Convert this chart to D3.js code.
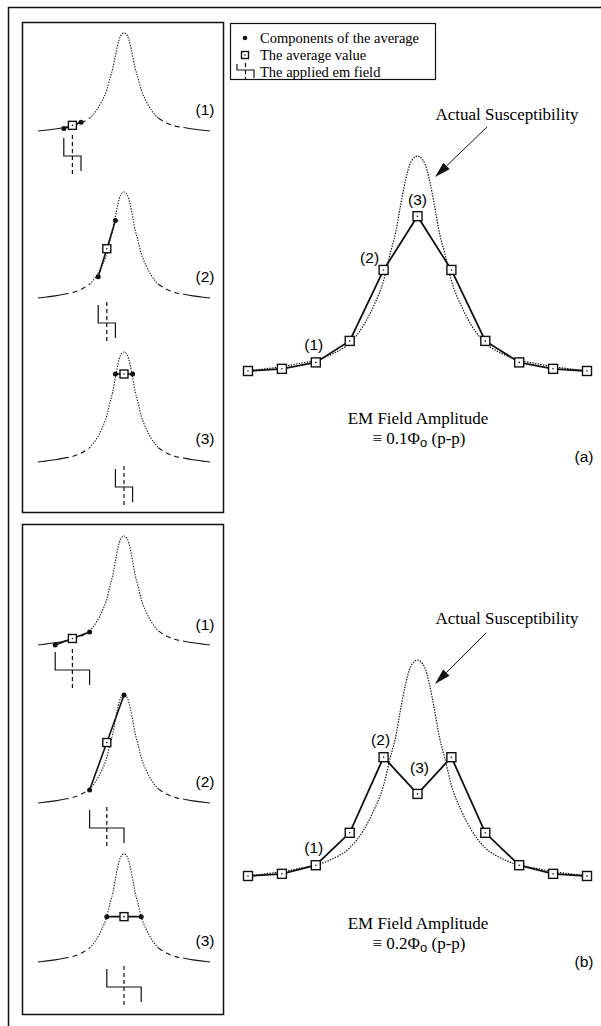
<!DOCTYPE html>
<html>
<head>
<meta charset="utf-8">
<script src="https://cdn.jsdelivr.net/npm/d3@7"></script>
<style>
  body { margin: 0; background: #fff; }
  svg { display: block; }
  .serif { font-family: 'Liberation Serif', 'Times New Roman', serif; }
  .sans { font-family: 'Liberation Sans', Arial, sans-serif; }
</style>
</head>
<body>
<div id="chart"></div>
<script>
// susceptibility shape, field units vs height (peak = 1)
const curveU = [-5, -4.5, -4, -3.5, -3, -2.5, -2, -1.6, -1.3, -1, -0.8, -0.65, -0.5, -0.35, -0.2, 0,
  0.2, 0.35, 0.5, 0.65, 0.8, 1, 1.3, 1.6, 2, 2.5, 3, 3.5, 4, 4.5, 5];
const curveH = [0, 0.01, 0.02, 0.035, 0.05, 0.08, 0.13, 0.21, 0.3, 0.42, 0.55, 0.64, 0.77, 0.89, 0.97, 1,
  0.97, 0.89, 0.77, 0.64, 0.55, 0.42, 0.3, 0.21, 0.13, 0.08, 0.05, 0.035, 0.02, 0.01, 0];

// measured averages at each field position
const fieldU = [-5, -4, -3, -2, -1, 0, 1, 2, 3, 4, 5];
const avgA = [0, 0.01, 0.04, 0.14, 0.47, 0.72, 0.47, 0.14, 0.04, 0.01, 0];
const avgB = [0, 0.01, 0.05, 0.20, 0.55, 0.38, 0.55, 0.20, 0.05, 0.01, 0];

const pointLabels = ['(1)', '(2)', '(3)'];
const labelU = [-3, -1, 0];

// insets: field centre, half amplitude, the two component values
const insetCenter = [-3, -1, 0];
const ampA = 0.5, ampB = 1;
const compA = [[0.025, 0.09], [0.2, 0.73], [0.8, 0.8]];
const compB = [[0.0, 0.12], [0.12, 1.0], [0.42, 0.42]];

const legendLabels = ['Components of the average', 'The average value', 'The applied em field'];

const W = 601, H = 1026;
const svg = d3.select('#chart').append('svg')
  .attr('width', W).attr('height', H);

// outer frame (top and left only)
svg.append('path')
  .attr('d', 'M8.5,1026 V7.5 H601')
  .attr('fill', 'none').attr('stroke', '#111').attr('stroke-width', 1.5);

// inset boxes
svg.append('rect').attr('x', 22.5).attr('y', 22.5).attr('width', 201).attr('height', 490)
  .attr('fill', 'none').attr('stroke', '#111').attr('stroke-width', 1.5);
svg.append('rect').attr('x', 22.5).attr('y', 524.5).attr('width', 201).attr('height', 490)
  .attr('fill', 'none').attr('stroke', '#111').attr('stroke-width', 1.5);

const curveData = curveU.map((u, i) => ({u: u, h: curveH[i]}));

function square(g, cx, cy, s) {
  g.append('rect').attr('x', cx - s / 2).attr('y', cy - s / 2).attr('width', s).attr('height', s)
    .attr('fill', '#fff').attr('stroke', '#111').attr('stroke-width', 1.4);
  g.append('circle').attr('cx', cx).attr('cy', cy).attr('r', 0.8).attr('fill', '#111');
}

function fieldSymbol(g, x0, x1, top, mid, bot, dTop, dBot) {
  g.append('path')
    .attr('d', `M${x0},${top} V${mid} H${x1} V${bot}`)
    .attr('fill', 'none').attr('stroke', '#111').attr('stroke-width', 1.2);
  g.append('line')
    .attr('x1', (x0 + x1) / 2).attr('x2', (x0 + x1) / 2)
    .attr('y1', dTop).attr('y2', dBot)
    .attr('stroke', '#111').attr('stroke-width', 1.2).attr('stroke-dasharray', '4,3');
}

// ---- left insets ----
const xl = d3.scaleLinear().domain([-5, 5]).range([38, 210]);

function drawInset(base, peak, center, amp, comp, label, labelY) {
  const y = d3.scaleLinear().domain([0, 1]).range([base, peak]);
  const g = svg.append('g');
  const line = d3.line().x(d => xl(d.u)).y(d => y(d.h)).curve(d3.curveMonotoneX);
  const pieces = [
    {f: d => d.u <= -3.5, dash: null},
    {f: d => d.u >= -3.5 && d.u <= -2, dash: '5,4'},
    {f: d => d.u >= -2 && d.u <= 2, dash: '1.3,1.4'},
    {f: d => d.u >= 2 && d.u <= 3.5, dash: '5,4'},
    {f: d => d.u >= 3.5, dash: null}
  ];
  pieces.forEach(p => {
    g.append('path')
      .attr('d', line(curveData.filter(p.f)))
      .attr('fill', 'none').attr('stroke', '#111').attr('stroke-width', 1.1)
      .attr('stroke-dasharray', p.dash);
  });
  const p1 = [xl(center - amp), y(comp[0])];
  const p2 = [xl(center + amp), y(comp[1])];
  g.append('line').attr('x1', p1[0]).attr('y1', p1[1]).attr('x2', p2[0]).attr('y2', p2[1])
    .attr('stroke', '#111').attr('stroke-width', 1.6);
  [p1, p2].forEach(p => g.append('circle').attr('cx', p[0]).attr('cy', p[1]).attr('r', 2.5).attr('fill', '#111'));
  square(g, xl(center), (p1[1] + p2[1]) / 2, 8);
  fieldSymbol(g, xl(center - amp), xl(center + amp), base + 7, base + 25, base + 40, base + 4, base + 45);
  g.append('text').attr('class', 'sans').attr('x', 205).attr('y', labelY)
    .attr('text-anchor', 'middle').attr('dominant-baseline', 'central')
    .attr('font-size', 15.5).text(label);
}

const basesA = [131, 298, 462], peaksA = [33, 192, 352], labYA = [109, 276, 438];
const basesB = [645, 803, 962], peaksB = [536, 695, 854], labYB = [624, 781, 940];
for (let i = 0; i < 3; i++) {
  drawInset(basesA[i], peaksA[i], insetCenter[i], ampA, compA[i], pointLabels[i], labYA[i]);
  drawInset(basesB[i], peaksB[i], insetCenter[i], ampB, compB[i], pointLabels[i], labYB[i]);
}

// ---- legend ----
const leg = svg.append('g');
leg.append('rect').attr('x', 230.5).attr('y', 23.5).attr('width', 205).attr('height', 56)
  .attr('fill', '#fff').attr('stroke', '#111').attr('stroke-width', 1.2);
const rowY = [38, 55, 72];
leg.append('circle').attr('cx', 245).attr('cy', rowY[0]).attr('r', 2.3).attr('fill', '#111');
square(leg, 245, rowY[1], 7);
fieldSymbol(leg, 237, 254, rowY[2] - 8, rowY[2] - 2, rowY[2] + 6, rowY[2] - 9, rowY[2] + 8);
legendLabels.forEach((t, i) => {
  leg.append('text').attr('class', 'serif').attr('x', 260).attr('y', rowY[i])
    .attr('dominant-baseline', 'central').attr('font-size', 14.5).text(t);
});

// ---- right charts ----
const xr = d3.scaleLinear().domain([-5, 5]).range([248, 587]);

function drawMain(base, peak, avg, labPos, sub, tag, arrow) {
  const y = d3.scaleLinear().domain([0, 1]).range([base, peak]);
  const g = svg.append('g');
  g.append('path')
    .attr('d', d3.line().x(d => xr(d.u)).y(d => y(d.h)).curve(d3.curveMonotoneX)(curveData))
    .attr('fill', 'none').attr('stroke', '#111').attr('stroke-width', 1.2)
    .attr('stroke-dasharray', '1.4,1.3');
  g.append('path')
    .attr('d', d3.line().x((d, i) => xr(fieldU[i])).y(d => y(d))(avg))
    .attr('fill', 'none').attr('stroke', '#111').attr('stroke-width', 1.8);
  avg.forEach((v, i) => square(g, xr(fieldU[i]), y(v), 9));
  pointLabels.forEach((t, i) => {
    g.append('text').attr('class', 'sans')
      .attr('x', xr(labelU[i]) + labPos[i][0]).attr('y', y(avg[fieldU.indexOf(labelU[i])]) + labPos[i][1])
      .attr('text-anchor', 'middle').attr('dominant-baseline', 'central')
      .attr('font-size', 15.5).text(t);
  });
  // annotation + arrow
  g.append('text').attr('class', 'serif').attr('x', 507).attr('y', peak - 42)
    .attr('text-anchor', 'middle').attr('dominant-baseline', 'central')
    .attr('font-size', 17).text('Actual Susceptibility');
  const [ax0, ay0, ax1, ay1] = arrow;
  const ang = Math.atan2(ay1 - ay0, ax1 - ax0);
  const hl = 16, hw = 4.5;
  const bx = ax1 - hl * Math.cos(ang), by = ay1 - hl * Math.sin(ang);
  g.append('line').attr('x1', ax0).attr('y1', ay0).attr('x2', bx).attr('y2', by)
    .attr('stroke', '#111').attr('stroke-width', 1);
  g.append('path')
    .attr('d', `M${ax1},${ay1} L${bx + hw * Math.sin(ang)},${by - hw * Math.cos(ang)} L${bx - hw * Math.sin(ang)},${by + hw * Math.cos(ang)} Z`)
    .attr('fill', '#111');
  // caption
  g.append('text').attr('class', 'serif').attr('x', 418).attr('y', base + 47)
    .attr('text-anchor', 'middle').attr('dominant-baseline', 'central')
    .attr('font-size', 17).text('EM Field Amplitude');
  const t2 = g.append('text').attr('class', 'serif').attr('x', 419).attr('y', base + 67)
    .attr('text-anchor', 'middle').attr('dominant-baseline', 'central').attr('font-size', 17);
  t2.append('tspan').text('\u2261 ' + sub + '\u03A6');
  t2.append('tspan').attr('class', 'sans').attr('font-size', 13).attr('dy', 4).text('o');
  t2.append('tspan').attr('dy', -4).text(' (p-p)');
  g.append('text').attr('class', 'sans').attr('x', 584).attr('y', base + 85)
    .attr('text-anchor', 'middle').attr('dominant-baseline', 'central')
    .attr('font-size', 15.5).text(tag);
}

drawMain(371, 156, avgA, [[-2, -18], [-14, -12], [0, -17]], '0.1', '(a)', [487, 127, 435, 177]);
drawMain(876, 660, avgB, [[-2, -18], [-3, -18], [2, -26]], '0.2', '(b)', [486, 633, 435, 684]);
</script>
</body>
</html>
